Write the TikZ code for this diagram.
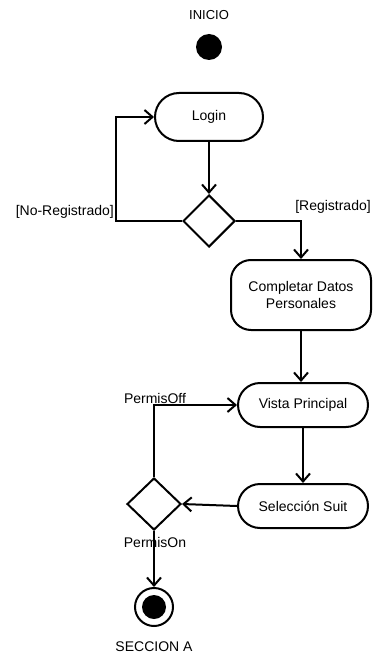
\documentclass[tikz,border=0pt]{standalone}
\usepackage{fontspec}
\setmainfont{Liberation Sans}
\usetikzlibrary{shapes.geometric,arrows.meta}
\begin{document}
\begin{tikzpicture}[x=1pt,y=-1pt,
  every node/.style={font=\fontsize{14}{17}\selectfont},
  activity/.style={draw,line width=2pt,rectangle,inner sep=2pt},
  decision/.style={draw,line width=2pt,diamond,inner sep=0pt,minimum width=#1,minimum height=52pt},
  flow/.style={line width=2pt,-{Straight Barb[length=8pt,width=14pt,line width=2pt]}},
  edge/.style={line width=2pt},
  lbl/.style={inner sep=0pt}]
\useasboundingbox (0,0) rectangle (372,655);

% start state
\node[lbl,font=\fontsize{13}{15}\selectfont] (inicioTxt) at (209,15) {INICIO};
\node[circle,fill=black,minimum size=26pt,inner sep=0pt] (ini) at (209,47) {};

% activities
\node[activity,rounded corners=24pt,minimum width=108pt,minimum height=48pt] (login) at (209,117) {Login};
\node[decision=52pt] (d1) at (209,221) {};
\node[activity,rounded corners=20pt,minimum width=140pt,minimum height=70pt,align=center] (datos) at (301,295) {Completar Datos\\Personales};
\node[activity,rounded corners=22pt,minimum width=130pt,minimum height=44pt] (vista) at (303,405) {Vista Principal};
\node[activity,rounded corners=22pt,minimum width=130pt,minimum height=44pt] (sel) at (303,506) {Selección Suit};
\node[decision=54pt] (d2) at (154,504) {};

% end state
\node[circle,draw,line width=2pt,minimum size=38pt,inner sep=0pt] (fin) at (154,607) {};
\node[circle,fill=black,minimum size=24pt,inner sep=0pt] (finDot) at (fin.center) {};
\node[lbl] (seccion) at (154,647) {SECCION A};

% guard labels
\node[lbl,anchor=east] (noReg) at (114,212) {[No-Registrado]};
\node[lbl] (reg) at (333,207) {[Registrado]};
\node[lbl] (off) at (155,398) {PermisOff};
\node[lbl] (on) at (155,542) {PermisOn};

% bends
\coordinate (loopL) at (116,221);

% transitions
\draw[flow] (login.south) -- (d1.north);
\draw[flow] (d1.west) -- (loopL) |- (login.west);
\draw[flow] (d1.east) -| (datos.north);
\draw[flow] (datos.south) -- (datos.south |- vista.north);
\draw[flow] (vista.south) -- (sel.north);
\draw[flow] (sel.west) -- (d2.east);
\draw[flow] (d2.north) |- (vista.west);
\draw[flow] (d2.south) -- (fin.north);
\end{tikzpicture}
\end{document}
